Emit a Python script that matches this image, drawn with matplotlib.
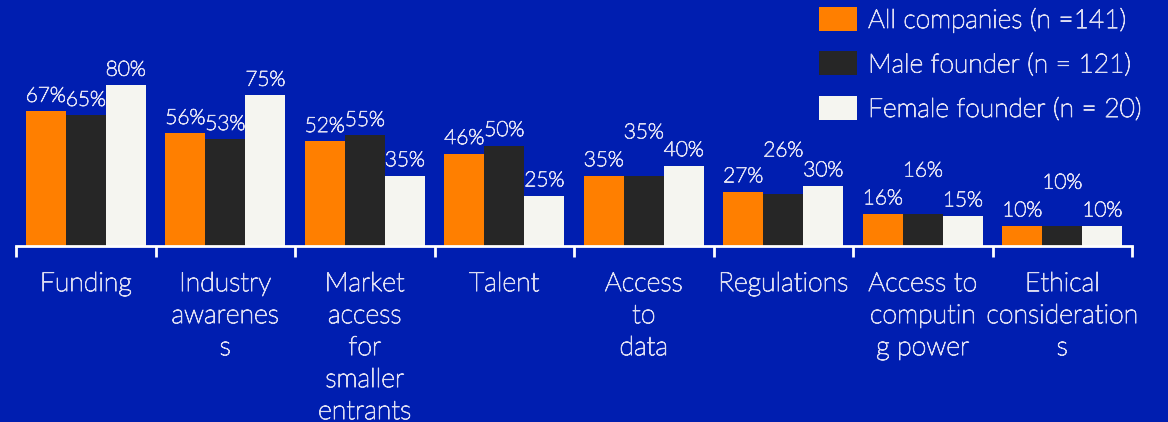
import matplotlib
matplotlib.use("Agg")
import matplotlib.pyplot as plt
import matplotlib.patheffects as pe
import numpy as np

plt.rcParams['font.family'] = ['Lato', 'DejaVu Sans']

categories = ["Funding", "Industry\nawarenes\ns", "Market\naccess\nfor\nsmaller\nentrants",
              "Talent", "Access\nto\ndata", "Regulations", "Access to\ncomputin\ng power",
              "Ethical\nconsideration\ns"]
series_names = ["All companies (n =141)", "Male founder (n = 121)", "Female founder (n = 20)"]
all_companies = [67, 56, 52, 46, 35, 27, 16, 10]
male_founder = [65, 53, 55, 50, 35, 26, 16, 10]
female_founder = [80, 75, 35, 25, 40, 30, 15, 10]

BG = "#001EB0"
COLORS = ["#FF7F00", "#262626", "#F5F5F0"]
TEXT = "#DCDCF2"
WEIGHT = "light"
# light face, slightly thickened
THICK = [pe.withStroke(linewidth=0.7, foreground=TEXT)]

# extra lift (in points) for the male-founder value labels
male_lift = [0, 0, 0, 0, 20, 20, 20, 20]

W, H = 1168, 422
fig = plt.figure(figsize=(W / 100, H / 100), dpi=100, facecolor=BG)
ax = fig.add_axes([16 / W, (H - 246) / H, 1116 / W, 246 / H])
ax.set_facecolor(BG)

x = np.arange(len(categories))
bw = 0.287
series = [all_companies, male_founder, female_founder]
for k, (vals, col, name) in enumerate(zip(series, COLORS, series_names)):
    bars = ax.bar(x + (k - 1) * bw, vals, width=bw, color=col, label=name, zorder=2)
    for i, (b, v) in enumerate(zip(bars, vals)):
        lift = 4 + (male_lift[i] if k == 1 else 0)
        ax.annotate(f"{v}%", (b.get_x() + b.get_width() / 2, v),
                    xytext=(0, lift), textcoords="offset points",
                    ha="center", va="bottom", fontsize=15, color=TEXT,
                    fontweight=WEIGHT, path_effects=THICK)

ax.set_xlim(-0.5, len(categories) - 0.5)
ax.set_ylim(0, 122.4)
ax.set_yticks([])
for s in ["top", "right", "left"]:
    ax.spines[s].set_visible(False)
ax.spines["bottom"].set_color("white")
ax.spines["bottom"].set_linewidth(2)

# ticks on group boundaries, labels centred on groups
ax.set_xticks(np.arange(len(categories) + 1) - 0.5)
ax.set_xticklabels([])
ax.tick_params(axis="x", length=8, width=2, color="white", direction="out")
for i, c in enumerate(categories):
    ax.text(i, -12.5, c, ha="center", va="top", fontsize=19.2, color=TEXT,
            fontweight=WEIGHT, linespacing=1.35, clip_on=False, path_effects=THICK)

leg = fig.legend(loc="upper left", bbox_to_anchor=(819 / W, 1 - 7 / H),
                 frameon=False, fontsize=19, handlelength=1.44, handleheight=1.02,
                 labelspacing=0.7, handletextpad=0.42, borderpad=0, borderaxespad=0)
for t in leg.get_texts():
    t.set_color(TEXT)
    t.set_fontweight(WEIGHT)
    t.set_path_effects(THICK)

fig.savefig("out.png", dpi=100, facecolor=BG)
